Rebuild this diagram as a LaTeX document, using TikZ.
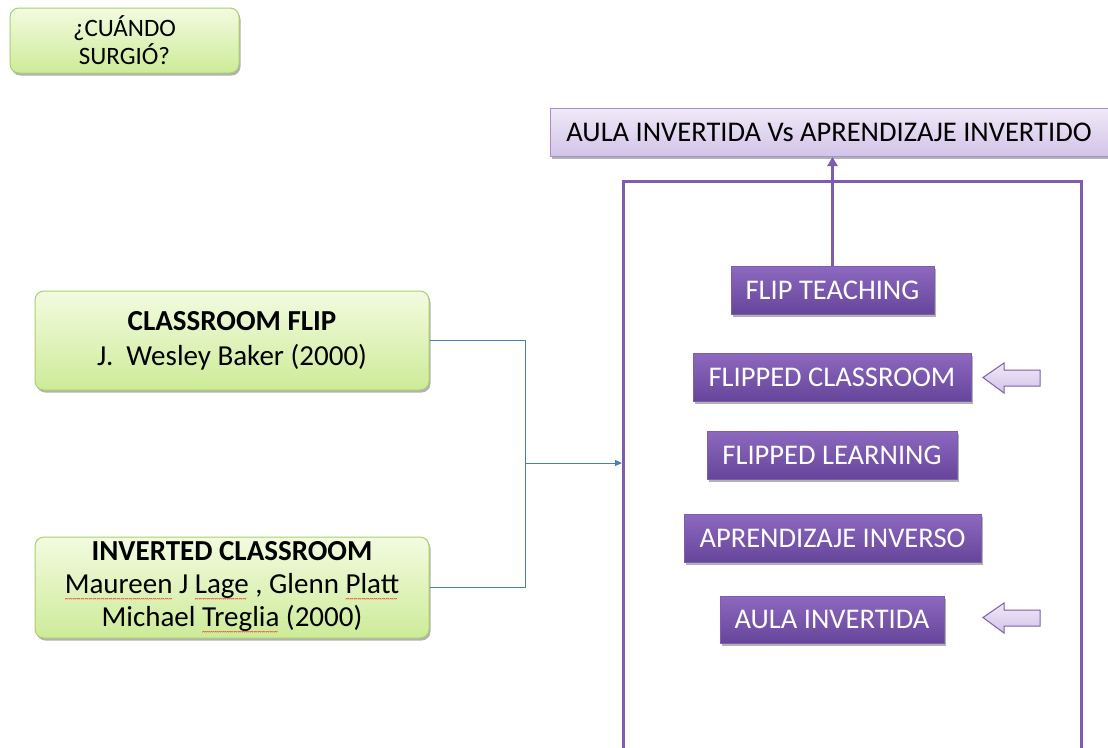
\documentclass[tikz,border=0pt]{standalone}
\usepackage{fontspec}
\setmainfont{Carlito}
\usetikzlibrary{shadows,arrows.meta}
\definecolor{grnTop}{HTML}{F3FBE0}
\definecolor{grnBot}{HTML}{CDEB98}
\definecolor{grnLine}{HTML}{A9CF6E}
\definecolor{purTop}{HTML}{8D69BF}
\definecolor{purBot}{HTML}{65459A}
\definecolor{purLine}{HTML}{7E5DAE}
\definecolor{lavTop}{HTML}{F0E9F8}
\definecolor{lavBot}{HTML}{D2C3E8}
\definecolor{lavLine}{HTML}{A590CC}
\definecolor{conBlue}{HTML}{4A7EBB}
\newcommand\squig[1]{\setbox0\hbox{#1}\rlap{\textcolor{red}{\lower8pt\hbox to\wd0{\leaders\hbox{\fontsize{8}{8}\selectfont\char"7E}\hfill}}}#1}
\begin{document}
\begin{tikzpicture}[x=1pt,y=-1pt,
  shad/.style={drop shadow={shadow xshift=1.5pt,shadow yshift=-2.5pt,opacity=0.3,fill=black}},
  greenbox/.style={shad,rectangle,rounded corners=9pt,draw=grnLine,line width=1pt,
     top color=grnTop,bottom color=grnBot,inner sep=0pt,align=center,text=black},
  purbox/.style={shad,rectangle,draw=purLine,line width=0.6pt,top color=purTop,bottom color=purBot,
     inner sep=0pt,align=center,text=white,font=\fontsize{28.5}{32}\selectfont},
  lavbox/.style={shad,rectangle,draw=lavLine,line width=1pt,top color=lavTop,bottom color=lavBot,
     inner sep=0pt,align=center,text=black,font=\fontsize{28.5}{32}\selectfont},
  frame/.style={rectangle,draw=purLine,line width=2.5pt,inner sep=0pt},
  blockarrow/.style={draw=purLine,line width=1pt,top color=lavTop,bottom color=lavBot}]
\useasboundingbox (0,0) rectangle (1108,747);
\clip (0,0) rectangle (1108,747);
\fill[white] (0,0) rectangle (1108,747);

\node[greenbox,minimum width=229pt,minimum height=65pt,font=\fontsize{25}{28}\selectfont] (q) at (124.5,40.5) {¿CUÁNDO\\SURGIÓ?};

\node[lavbox,minimum width=562pt,minimum height=48pt,anchor=west] (top) at (550,132.5) {\hspace*{-5pt}AULA INVERTIDA Vs APRENDIZAJE INVERTIDO};

\node[frame,minimum width=458pt,minimum height=600pt,anchor=north west] (frame) at (622,180) {};

\node[purbox,minimum width=203pt,minimum height=48pt] (ft) at (832.5,290) {FLIP TEACHING};
\node[purbox,minimum width=278pt,minimum height=48pt] (fc) at (832,377) {FLIPPED CLASSROOM};
\node[purbox,minimum width=250pt,minimum height=48pt] (fl) at (832,455) {FLIPPED LEARNING};
\node[purbox,minimum width=297pt,minimum height=48pt] (ai) at (832.5,538) {APRENDIZAJE INVERSO};
\node[purbox,minimum width=224pt,minimum height=47pt] (au) at (832,619.5) {AULA INVERTIDA};

\draw[purLine,line width=3pt,-{Triangle[length=9pt,width=10pt]}] (ft.north) -- (ft.north |- top.south);

\draw[blockarrow] (983,377.5) -- (1004,363) -- (1004,370) -- (1040,370) -- (1040,386) -- (1004,386) -- (1004,393) -- cycle;
\draw[blockarrow] (983,617.5) -- (1004,603) -- (1004,610) -- (1040,610) -- (1040,626) -- (1004,626) -- (1004,633) -- cycle;

\node[greenbox,minimum width=394pt,minimum height=99pt,font=\fontsize{29}{35}\selectfont] (cf) at (232,340.5) {\textbf{CLASSROOM FLIP}\\J.\ \ Wesley Baker (2000)};
\node[greenbox,minimum width=394pt,minimum height=101pt,font=\fontsize{29}{33}\selectfont] (ic) at (232,587.5) {\textbf{INVERTED CLASSROOM}\\\squig{Maureen} J \squig{Lage} , Glenn \squig{Platt}\\Michael \squig{Treglia} (2000)};

\coordinate (j) at (525,463);
\draw[conBlue,line width=1pt] (cf.east) -| (j);
\draw[conBlue,line width=1pt] (ic.east) -| (j);
\draw[conBlue,line width=1pt,-{Triangle[length=7pt,width=6pt]}] (j) -- (frame.west |- j);
\end{tikzpicture}
\end{document}
